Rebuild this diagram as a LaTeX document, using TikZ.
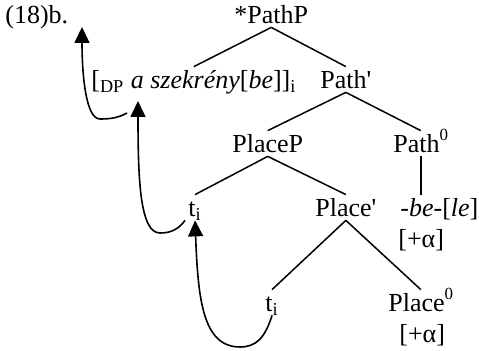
\documentclass[tikz,border=0pt]{standalone}
\usepackage{fontspec}
\setmainfont{Liberation Serif}[
  UprightFont = *,
  ItalicFont = * Italic,
  BoldFont = * Bold]
\usetikzlibrary{arrows.meta}
\newcommand{\headzero}{\raisebox{6pt}{\fontsize{8.5}{9}\selectfont 0}}
\begin{document}
\begin{tikzpicture}[x=0.5pt,y=-0.5pt,
  lbl/.style={anchor=base west, inner sep=1.5pt, text height=9.5pt, text depth=0pt,
              font=\fontsize{13}{15}\selectfont},
  branch/.style={line width=0.75pt},
  move/.style={line width=0.8pt, -{Triangle[width=7.5pt,length=8pt]}}]
\useasboundingbox (0,0) rectangle (479,351);

% labels of the tree
\node[lbl] (ex)       at (2,24)    {(18)b.};
\node[lbl] (pathP)    at (231,24)  {*PathP};
\node[lbl] (dp)       at (88,89)   {[\textsubscript{DP} \textit{a szekrény}[\textit{be}]]\textsubscript{i}};
\node[lbl] (pathbar)  at (317,89)  {Path\textquotesingle};
\node[lbl] (placeP)   at (229,153) {PlaceP};
\node[lbl] (path0)    at (390,153) {Path\headzero};
\node[lbl] (t1)       at (185,217) {t\textsubscript{i}};
\node[lbl] (placebar) at (312,217) {Place\textquotesingle};
\node[lbl] (be)       at (397,217) {\textit{-be-}[\textit{le}]};
\node[lbl] (feat1)    at (395,248) {[+α]};
\node[lbl] (t2)       at (262,312) {t\textsubscript{i}};
\node[lbl] (place0)   at (385,312) {Place\headzero};
\node[lbl] (feat2)    at (396,343) {[+α]};

% branches
\draw[branch] (pathP.south) -- (dp.north);
\draw[branch] (pathP.south) -- (pathbar.north);
\draw[branch] (pathbar.south) -- (placeP.north);
\draw[branch] (pathbar.south) -- (path0.north);
\draw[branch] (placeP.south) -- (t1.north);
\draw[branch] (placeP.south) -- (placebar.north);
\draw[branch] (path0.south) -- (path0.south |- be.north);
\draw[branch] (placebar.south) -- (t2.north);
\draw[branch] (placebar.south) -- (place0.north);

% movement arrows
\coordinate (aMark) at (138,101);
\coordinate (dpFoot) at (127,113);
\coordinate (upEnd) at (82,27);
\draw[move] (t2.south) .. controls (265,338) and (256,347) .. (240,347)
  .. controls (203,347) and (198,300) .. (t1.south);
\draw[move] (t1.south west) .. controls (178,230) and (170,233) .. (160,233)
  .. controls (140,233) and (138,180) .. (aMark);
\draw[move] (dpFoot) .. controls (118,118) and (110,119) .. (100,119)
  .. controls (85,119) and (82,70) .. (upEnd);
\end{tikzpicture}
\end{document}
